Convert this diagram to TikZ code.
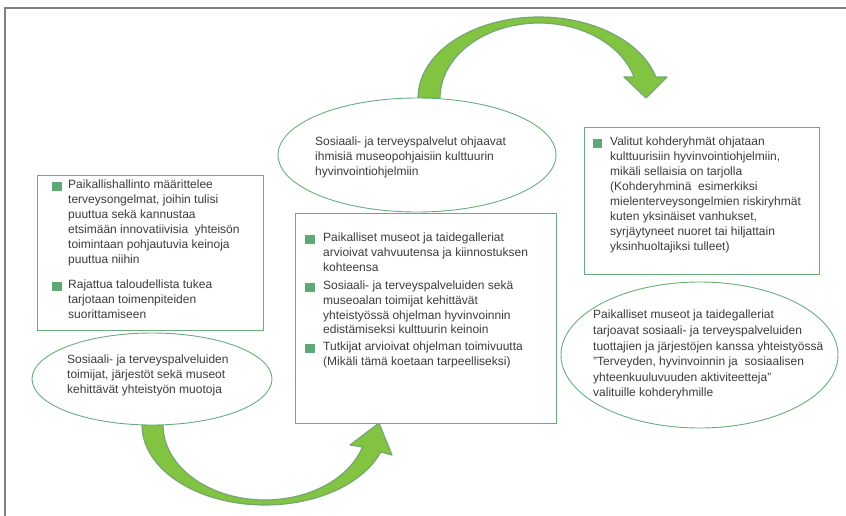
\documentclass[tikz,border=0pt]{standalone}
\usepackage{fontspec}
\setmainfont{Liberation Sans}
\usetikzlibrary{shapes.geometric, positioning}

\definecolor{framegray}{RGB}{128,128,128}
\definecolor{edge}{RGB}{104,174,124}
\definecolor{bulgreen}{RGB}{95,168,120}
\definecolor{arrfill}{RGB}{130,195,66}
\definecolor{arredge}{RGB}{118,166,116}
\definecolor{ink}{RGB}{60,60,60}

\begin{document}
\begin{tikzpicture}[x=1pt, y=-1pt,
  box/.style={rectangle, draw=edge, line width=1pt, fill=white, inner sep=0pt},
  oval/.style={ellipse, draw=edge, line width=0.9pt, fill=white, inner sep=0pt},
  txt/.style={inner sep=0pt, align=left, anchor=north west, text=ink,
              font=\fontsize{12}{15}\selectfont},
  bul/.style={rectangle, fill=bulgreen, minimum size=9.5pt, inner sep=0pt},
  bigarr/.style={fill=arrfill, draw=arredge, line width=1.2pt, line join=round}
]
\useasboundingbox (0,0) rectangle (846,516);
\draw[framegray, line width=1.6pt] (846,8) -- (5,8) -- (5,516);

\filldraw[bigarr] plot[domain=180:15, samples=50, variable=\t] ({539+121*cos(\t)},{98-81*sin(\t)})
  -- (667,77) -- (646,98) -- (624,77)
  -- plot[domain=16.26:180, samples=50, variable=\t] ({539+99*cos(\t)},{98-75*sin(\t)}) -- cycle;
\filldraw[bigarr] plot[domain=180:340.28, samples=50, variable=\t] ({265+123*cos(\t)},{425-80*sin(\t)})
  -- (392,455) -- (379,423) -- (350,445)
  -- plot[domain=342.94:180, samples=50, variable=\t] ({265+102*cos(\t)},{425-75*sin(\t)}) -- cycle;

\node[box, minimum width=226pt, minimum height=155pt] (lbox) at (150,252.5) {};
\node[box, minimum width=261pt, minimum height=210pt] (mbox) at (425.5,318) {};
\node[box, minimum width=235pt, minimum height=146pt] (rbox) at (701.5,201) {};

\node[oval, minimum width=278pt, minimum height=114pt] (tell) at (417,155) {};
\node[oval, minimum width=240pt, minimum height=92pt] (lell) at (152,379) {};
\node[oval, minimum width=277pt, minimum height=146pt] (rell) at (699.5,355) {};

\node[txt] (l1) at (68,180) {Paikallishallinto määrittelee\\terveysongelmat, joihin tulisi\\puuttua sekä kannustaa\\etsimään innovatiivisia\ \ yhteisön\\toimintaan pohjautuvia keinoja\\puuttua niihin};
\node[txt] (l2) at (68,280) {Rajattua taloudellista tukea\\tarjotaan toimenpiteiden\\suorittamiseen};
\node[bul] (bl1) at ([xshift=-11pt, yshift=-6.5pt]l1.north west) {};
\node[bul] (bl2) at ([xshift=-11pt, yshift=-6.5pt]l2.north west) {};

\node[txt, font=\fontsize{12}{14.6}\selectfont] (m1) at (323,233) {Paikalliset museot ja taidegalleriat\\arvioivat vahvuutensa ja kiinnostuksen\\kohteensa};
\node[txt, font=\fontsize{12}{14.6}\selectfont] (m2) at (323,281) {Sosiaali- ja terveyspalveluiden sekä\\museoalan toimijat kehittävät\\yhteistyössä ohjelman hyvinvoinnin\\edistämiseksi kulttuurin keinoin};
\node[txt, font=\fontsize{12}{14.6}\selectfont] (m3) at (323,342) {Tutkijat arvioivat ohjelman toimivuutta\\(Mikäli tämä koetaan tarpeelliseksi)};
\node[bul] (bm1) at ([xshift=-13pt, yshift=-6.5pt]m1.north west) {};
\node[bul] (bm2) at ([xshift=-13pt, yshift=-6.5pt]m2.north west) {};
\node[bul] (bm3) at ([xshift=-13pt, yshift=-6.5pt]m3.north west) {};

\node[txt] (r1) at (610,137) {Valitut kohderyhmät ohjataan\\kulttuurisiin hyvinvointiohjelmiin,\\mikäli sellaisia on tarjolla\\(Kohderyhminä\ \ esimerkiksi\\mielenterveysongelmien riskiryhmät\\kuten yksinäiset vanhukset,\\syrjäytyneet nuoret tai hiljattain\\yksinhuoltajiksi tulleet)};
\node[bul] (br1) at ([xshift=-12.5pt, yshift=-6.5pt]r1.north west) {};

\node[txt] (ttxt) at (315,137) {Sosiaali- ja terveyspalvelut ohjaavat\\ihmisiä museopohjaisiin kulttuurin\\hyvinvointiohjelmiin};
\node[txt] (ltxt) at (67,355) {Sosiaali- ja terveyspalveluiden\\toimijat, järjestöt sekä museot\\kehittävät yhteistyön muotoja};
\node[txt, font=\fontsize{12}{15.6}\selectfont] (rtxt) at (593,310) {Paikalliset museot ja taidegalleriat\\tarjoavat sosiaali- ja terveyspalveluiden\\tuottajien ja järjestöjen kanssa yhteistyössä\\”Terveyden, hyvinvoinnin ja\ \ sosiaalisen\\yhteenkuuluvuuden aktiviteetteja”\\valituille kohderyhmille};
\end{tikzpicture}
\end{document}
